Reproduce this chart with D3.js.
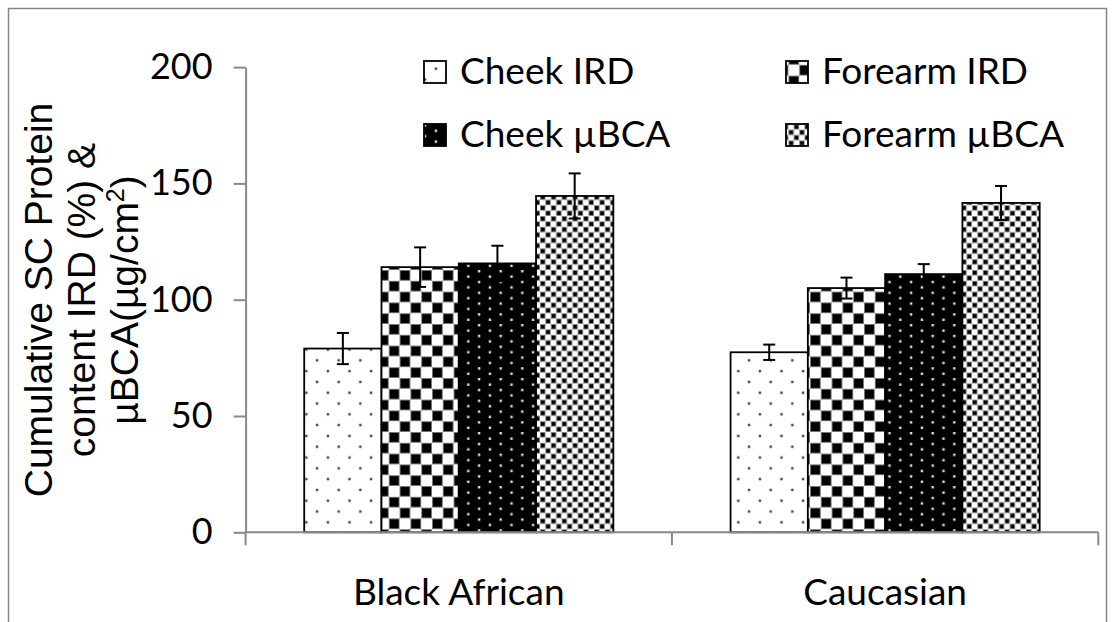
<!DOCTYPE html>
<html>
<head>
<meta charset="utf-8">
<script src="https://cdn.jsdelivr.net/npm/d3@7"></script>
<style>
  html, body { margin: 0; padding: 0; background: #fff; }
  svg { display: block; }
</style>
</head>
<body>
<svg id="chart" width="1115" height="622"></svg>
<script>
// ---- data ----
const categories = ["Black African", "Caucasian"];
const seriesNames = ["Cheek IRD", "Forearm IRD", "Cheek \u00b5BCA", "Forearm \u00b5BCA"];
const cheekIRD      = [79.0, 77.4];
const forearmIRD    = [114.0, 105.0];
const cheekBCA      = [115.6, 111.0];
const forearmBCA    = [144.6, 141.6];
const cheekIRDErr   = [6.7, 3.3];
const forearmIRDErr = [8.5, 4.5];
const cheekBCAErr   = [7.6, 4.3];
const forearmBCAErr = [9.7, 7.3];
const yTicks = [0, 50, 100, 150, 200];

const seriesValues = [cheekIRD, forearmIRD, cheekBCA, forearmBCA];
const seriesErrors = [cheekIRDErr, forearmIRDErr, cheekBCAErr, forearmBCAErr];
const patternIds = ["pCheekIRD", "pForearmIRD", "pCheekBCA", "pForearmBCA"];

const svg = d3.select("#chart");
const axisColor = "#898989";
const tickFont = "Lato, 'Open Sans', sans-serif";

// ---- patterns ----
const defs = svg.append("defs");
const U = 2.7; // pattern unit

// dotted (sparse dark dots on white)
let p = defs.append("pattern").attr("id", "pCheekIRD").attr("patternUnits", "userSpaceOnUse")
  .attr("width", 8 * U).attr("height", 8 * U);
p.append("rect").attr("width", 8 * U).attr("height", 8 * U).attr("fill", "#fff");
[[1, 1], [5, 5]].forEach(([a, b]) => p.append("rect").attr("x", a * U).attr("y", b * U)
  .attr("width", U * 0.9).attr("height", U * 0.9).attr("fill", "#444"));

// large checkerboard
p = defs.append("pattern").attr("id", "pForearmIRD").attr("patternUnits", "userSpaceOnUse")
  .attr("width", 8 * U).attr("height", 8 * U);
p.append("rect").attr("width", 8 * U).attr("height", 8 * U).attr("fill", "#fff");
[[0, 0], [4, 4]].forEach(([a, b]) => p.append("rect").attr("x", a * U + 0.5).attr("y", b * U + 0.5)
  .attr("width", 4 * U - 1).attr("height", 4 * U - 1).attr("fill", "#000")
  .attr("stroke", "#777").attr("stroke-width", 1));

// black with white dots
p = defs.append("pattern").attr("id", "pCheekBCA").attr("patternUnits", "userSpaceOnUse")
  .attr("width", 8 * U).attr("height", 4 * U);
p.append("rect").attr("width", 8 * U).attr("height", 4 * U).attr("fill", "#000");
[[1, 1], [5, 3]].forEach(([a, b]) => p.append("rect").attr("x", a * U).attr("y", b * U - U)
  .attr("width", U * 0.9).attr("height", U * 0.9).attr("fill", "#ddd"));

// small checkerboard
p = defs.append("pattern").attr("id", "pForearmBCA").attr("patternUnits", "userSpaceOnUse")
  .attr("width", 4 * U).attr("height", 4 * U);
p.append("rect").attr("width", 4 * U).attr("height", 4 * U).attr("fill", "#fff");
[[0, 0], [2, 2]].forEach(([a, b]) => p.append("rect").attr("x", a * U + 0.4).attr("y", b * U + 0.4)
  .attr("width", 2 * U - 0.8).attr("height", 2 * U - 0.8).attr("fill", "#000")
  .attr("stroke", "#888").attr("stroke-width", 0.8));

// ---- outer border ----
svg.append("rect").attr("x", 8.5).attr("y", 8.5).attr("width", 1098).attr("height", 700)
  .attr("fill", "none").attr("stroke", "#868686").attr("stroke-width", 1.5);

// ---- scales ----
const x0 = 245.6, x1 = 1098.3, yBottom = 532.3, yTop = 67.1;
const x = d3.scaleBand().domain(categories).range([x0, x1]).paddingInner(0.275).paddingOuter(0.1375);
const xs = d3.scaleBand().domain(seriesNames).range([0, x.bandwidth()]);
const y = d3.scaleLinear().domain([0, 200]).range([yBottom, yTop]);

// ---- bars ----
const barData = [];
categories.forEach((c, ci) => seriesNames.forEach((s, si) => {
  barData.push({ c, s, si, v: seriesValues[si][ci], e: seriesErrors[si][ci] });
}));

svg.append("g").selectAll("rect").data(barData).join("rect")
  .attr("x", d => x(d.c) + xs(d.s))
  .attr("y", d => y(d.v))
  .attr("width", xs.bandwidth())
  .attr("height", d => y(0) - y(d.v))
  .attr("fill", d => `url(#${patternIds[d.si]})`)
  .attr("stroke", "#000").attr("stroke-width", 1.8);

// ---- error bars ----
const eg = svg.append("g").attr("stroke", "#000").attr("stroke-width", 2);
barData.forEach(d => {
  const cx = x(d.c) + xs(d.s) + xs.bandwidth() / 2;
  eg.append("line").attr("x1", cx).attr("x2", cx).attr("y1", y(d.v + d.e)).attr("y2", y(d.v - d.e));
  eg.append("line").attr("x1", cx - 6).attr("x2", cx + 6).attr("y1", y(d.v + d.e)).attr("y2", y(d.v + d.e));
  eg.append("line").attr("x1", cx - 6).attr("x2", cx + 6).attr("y1", y(d.v - d.e)).attr("y2", y(d.v - d.e));
});

// ---- y axis ----
const yAxis = svg.append("g").attr("transform", `translate(${x0},0)`)
  .call(d3.axisLeft(y).tickValues(yTicks).tickSize(12).tickPadding(21).tickSizeOuter(0));
yAxis.select(".domain").attr("stroke", axisColor).attr("stroke-width", 2);
yAxis.selectAll(".tick line").attr("stroke", axisColor).attr("stroke-width", 2);
yAxis.selectAll(".tick text").attr("font-family", tickFont).attr("font-size", 36).attr("fill", "#000");

// ---- x axis ----
const xAxisG = svg.append("g");
xAxisG.append("line").attr("x1", x0).attr("x2", x1).attr("y1", yBottom).attr("y2", yBottom)
  .attr("stroke", axisColor).attr("stroke-width", 2);
const bounds = [x0].concat(categories.map(c => x(c) + x.bandwidth() + x.step() * x.paddingInner() / 2));
bounds[bounds.length - 1] = x1;
xAxisG.selectAll("line.tk").data(bounds).join("line").attr("class", "tk")
  .attr("x1", d => d).attr("x2", d => d).attr("y1", yBottom).attr("y2", yBottom + 13)
  .attr("stroke", axisColor).attr("stroke-width", 2);
xAxisG.selectAll("text").data(categories).join("text")
  .attr("x", d => x(d) + x.bandwidth() / 2).attr("y", 605)
  .attr("text-anchor", "middle").attr("font-family", tickFont).attr("font-size", 37)
  .attr("fill", "#000").text(d => d);

// ---- y title ----
const yt = svg.append("text").attr("transform", "translate(0,300) rotate(-90)")
  .attr("text-anchor", "middle").attr("font-family", "'Liberation Sans', Arial, sans-serif")
  .attr("font-size", 39).attr("fill", "#000");
yt.append("tspan").attr("x", 0).attr("y", 52).text("Cumulative SC Protein");
yt.append("tspan").attr("x", 0).attr("y", 95).text("content IRD (%) &");
const l3 = yt.append("tspan").attr("x", 0).attr("y", 138);
l3.append("tspan").text("\u00b5BCA(\u00b5g/cm");
l3.append("tspan").attr("font-size", 25).attr("dy", -14).text("2");
l3.append("tspan").attr("dy", 14).text(")");

// ---- legend ----
const legendPos = [
  { sx: 424, ty: 84 }, { sx: 786, ty: 84 },
  { sx: 424, ty: 147 }, { sx: 786, ty: 147 }
];
const legendOrder = [0, 1, 2, 3];
const lg = svg.append("g");
legendOrder.forEach((si, i) => {
  const pos = legendPos[i];
  lg.append("rect").attr("x", pos.sx).attr("y", pos.ty - 23).attr("width", 22).attr("height", 22)
    .attr("fill", `url(#${patternIds[si]})`).attr("stroke", "#000").attr("stroke-width", 1.8);
  lg.append("text").attr("x", pos.sx + 36).attr("y", pos.ty)
    .attr("font-family", tickFont).attr("font-size", 37).attr("fill", "#000")
    .text(seriesNames[si]);
});
</script>
</body>
</html>
